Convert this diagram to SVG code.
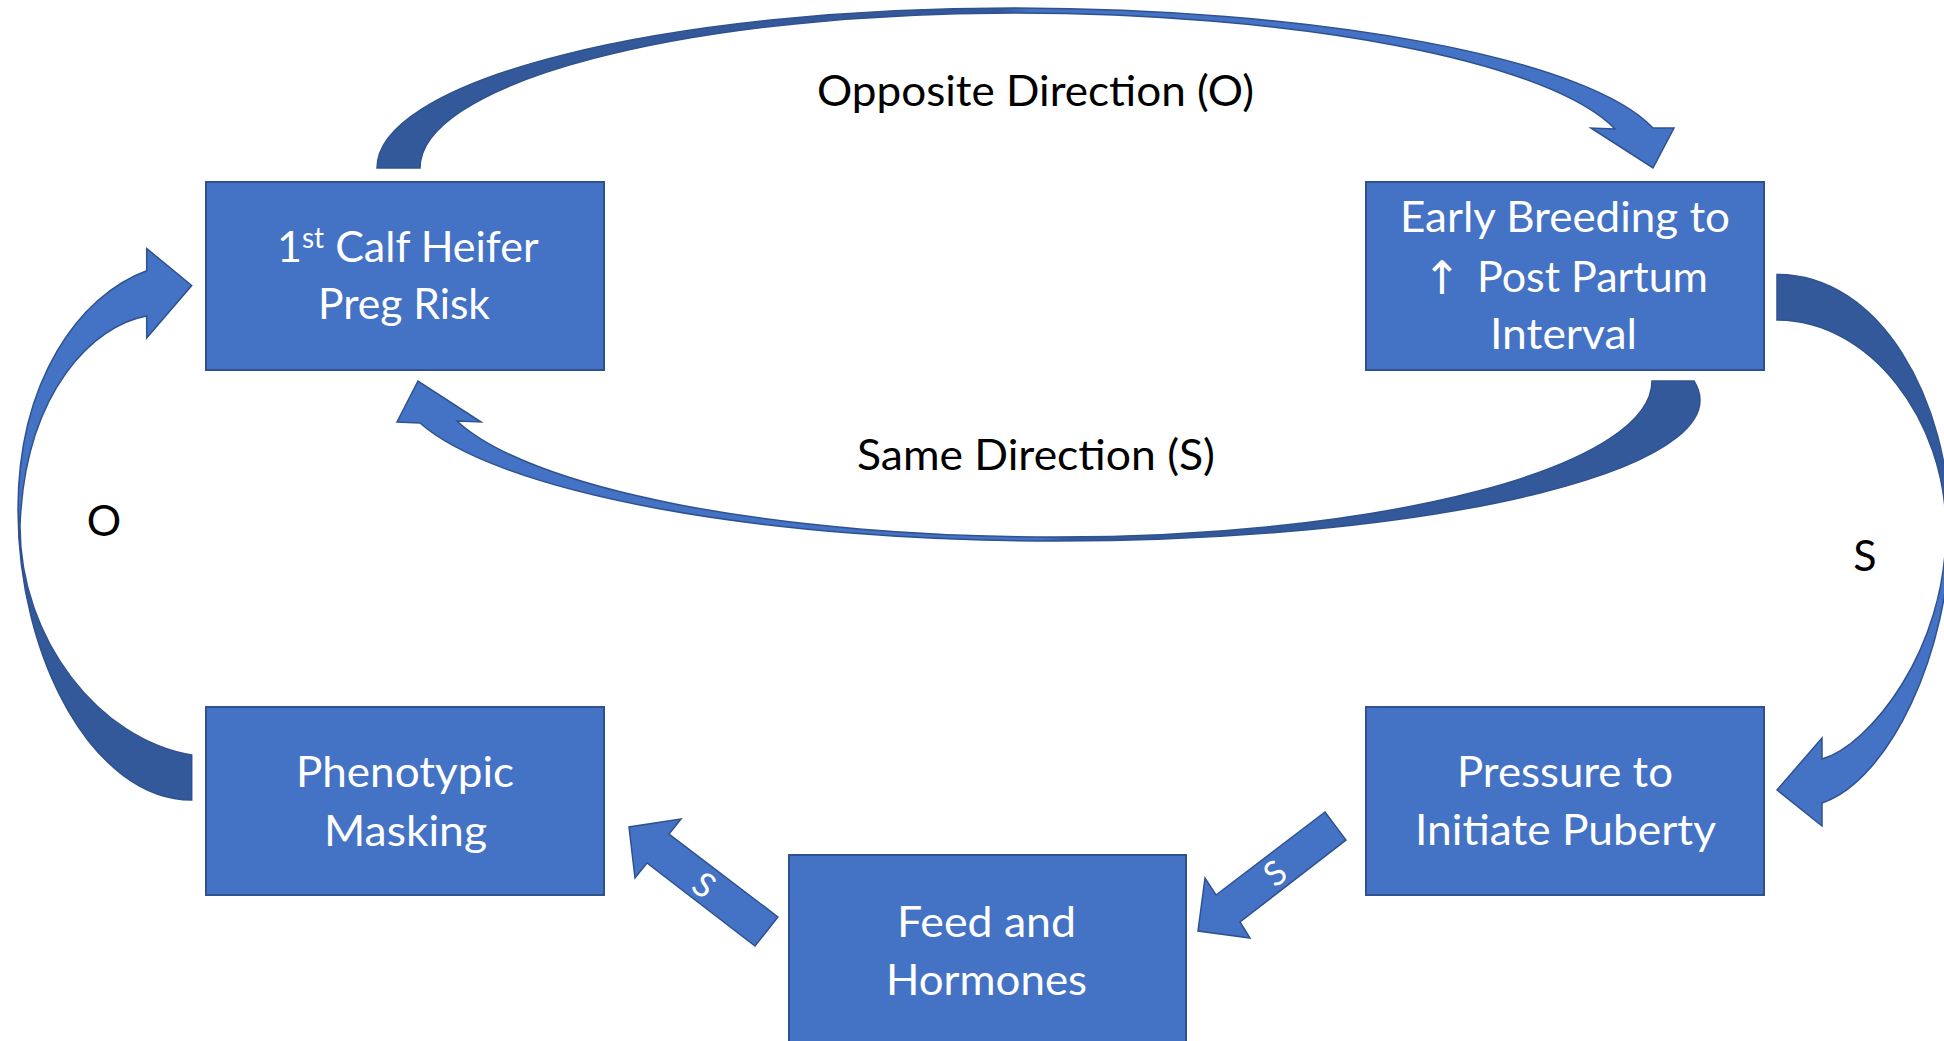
<svg xmlns="http://www.w3.org/2000/svg" width="1944" height="1041" viewBox="0 0 1944 1041">
<style>
.box{fill:#4472c4;stroke:#2f528f;stroke-width:2}
.t{font-family:Lato,"Open Sans","DejaVu Sans",sans-serif;font-size:43px;fill:#ffffff}
.lbl{font-family:Lato,"Open Sans","DejaVu Sans",sans-serif;font-size:43px;fill:#000000}
.arr{stroke:#2f528f;stroke-width:1.5;stroke-linejoin:miter}
.st{fill:#4472c4;stroke:#2f528f;stroke-width:1.5}
.sl{font-family:Lato,"Open Sans","DejaVu Sans",sans-serif;font-size:34px;fill:#ffffff}
</style>
<defs>
<linearGradient id="gTop" gradientUnits="userSpaceOnUse" x1="1000" y1="0" x2="1030" y2="0">
<stop offset="0" stop-color="#34599a"/><stop offset="1" stop-color="#4472c4"/>
</linearGradient>
<linearGradient id="gBot" gradientUnits="userSpaceOnUse" x1="1070" y1="0" x2="1040" y2="0">
<stop offset="0" stop-color="#34599a"/><stop offset="1" stop-color="#4472c4"/>
</linearGradient>
<linearGradient id="gLeft" gradientUnits="userSpaceOnUse" x1="0" y1="530" x2="0" y2="505">
<stop offset="0" stop-color="#34599a"/><stop offset="1" stop-color="#4472c4"/>
</linearGradient>
<linearGradient id="gRight" gradientUnits="userSpaceOnUse" x1="0" y1="520" x2="0" y2="545">
<stop offset="0" stop-color="#34599a"/><stop offset="1" stop-color="#4472c4"/>
</linearGradient>
</defs>
<rect width="1944" height="1041" fill="#ffffff"/>

<g id="connectors">
<path id="arrow-opposite" class="arr" fill="url(#gTop)" d="M 377 168 A 636 160 0 0 1 1013 8 A 660 152 0 0 1 1653 128 L 1674 128 L 1653 168 L 1591 128 L 1615 129 A 620 150 0 0 0 1013 13 A 593 155 0 0 0 420 168 Z"/>
<path id="arrow-same" class="arr" fill="url(#gBot)" d="M 1694 381 A 644 141 0 0 1 1056 541 A 660 161 0 0 1 420 423 L 397 422 L 418 381 L 481 422 L 457 421 A 620 157 0 0 0 1056 537 A 596 156 0 0 0 1652 381 Z"/>
<path id="arrow-left-O" class="arr" fill="url(#gLeft)" d="M 146.7 270.7 C 80 295 18 380 18 510 C 18 660 95 800 191.7 800 L 191.7 755 C 100 740 20 640 20 526 C 25 390 95 325 146.7 316 L 146.7 338 L 191.7 285.5 L 146.7 248.5 Z"/>
<path id="arrow-right-S" class="arr" fill="url(#gRight)" d="M 1777 274.5 C 1880 274 1950 400 1950 530 C 1950 650 1890 780 1822 803 L 1822 826 L 1777 790 L 1822 738 L 1822 759 C 1870 745 1946 650 1946 530 C 1946 420 1870 320 1777 320 Z"/>
<path id="arrow-feed-pheno" class="st" d="M 778 917 L 669 834 L 681 819 L 629 827 L 635 878 L 647 863 L 755 946 Z"/>
<path id="arrow-press-feed" class="st" d="M 1325 812 L 1216 895 L 1205 878 L 1198 931 L 1250 938 L 1240 922 L 1346 840 Z"/>
<text class="sl" text-anchor="middle" transform="translate(704 885) rotate(37)" y="12">S</text>
<text class="sl" text-anchor="middle" transform="translate(1275 873) rotate(-37.5)" y="12">S</text>
<text class="lbl" x="817" y="106" textLength="437" lengthAdjust="spacingAndGlyphs">Opposite Direction (O)</text>
<text class="lbl" x="857" y="470" textLength="358" lengthAdjust="spacingAndGlyphs">Same Direction (S)</text>
<text class="lbl" x="104" y="536" text-anchor="middle">O</text>
<text class="lbl" x="1865" y="571" text-anchor="middle">S</text>
</g>

<g id="node-heifer">
<rect class="box" x="206" y="182" width="398" height="188"/>
<text class="t" x="277" y="262">1<tspan dy="-14" style="font-size:28px">st</tspan><tspan dy="14"> Calf Heifer</tspan></text>
<text class="t" x="318" y="319" textLength="172" lengthAdjust="spacingAndGlyphs">Preg Risk</text>
</g>

<g id="node-early">
<rect class="box" x="1366" y="182" width="398" height="188"/>
<text class="t" x="1400" y="232" textLength="330" lengthAdjust="spacingAndGlyphs">Early Breeding to</text>
<text class="t" x="1442" y="294" text-anchor="middle" style="font-family:'DejaVu Sans',sans-serif;font-size:46px">↑</text>
<text class="t" x="1477" y="292" textLength="231" lengthAdjust="spacingAndGlyphs">Post Partum</text>
<text class="t" x="1490" y="349" textLength="147" lengthAdjust="spacingAndGlyphs">Interval</text>
</g>

<g id="node-pheno">
<rect class="box" x="206" y="707" width="398" height="188"/>
<text class="t" x="296" y="787" textLength="218" lengthAdjust="spacingAndGlyphs">Phenotypic</text>
<text class="t" x="324" y="846" textLength="163" lengthAdjust="spacingAndGlyphs">Masking</text>
</g>

<g id="node-pressure">
<rect class="box" x="1366" y="707" width="398" height="188"/>
<text class="t" x="1457" y="787" textLength="216" lengthAdjust="spacingAndGlyphs">Pressure to</text>
<text class="t" x="1415" y="845" textLength="301" lengthAdjust="spacingAndGlyphs">Initiate Puberty</text>
</g>

<g id="node-feed">
<rect class="box" x="789" y="855" width="397" height="200"/>
<text class="t" x="897" y="937" textLength="179" lengthAdjust="spacingAndGlyphs">Feed and</text>
<text class="t" x="886" y="995" textLength="201" lengthAdjust="spacingAndGlyphs">Hormones</text>
</g>
</svg>
